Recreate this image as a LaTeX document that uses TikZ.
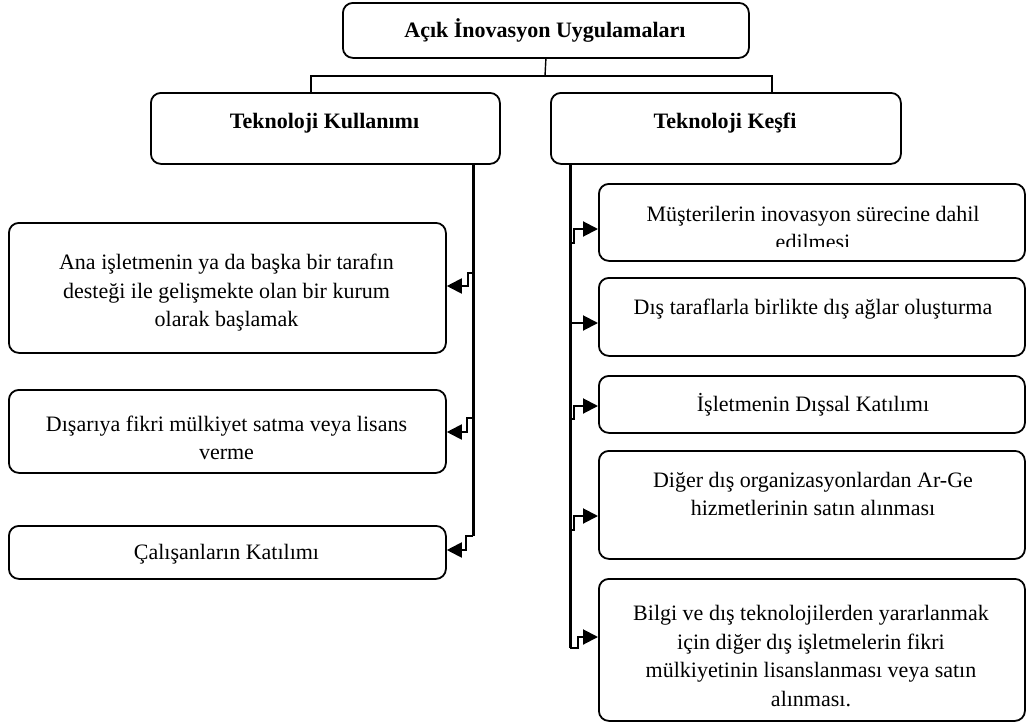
\documentclass[tikz,border=0pt]{standalone}
\usepackage{fontspec}
\setmainfont{Liberation Serif}
\usetikzlibrary{arrows.meta}
\begin{document}
\begin{tikzpicture}[x=1pt,y=-1pt,
  box/.style={draw, line width=1.8pt, rounded corners=10pt, anchor=north west, inner sep=0pt},
  txt/.style={align=center, inner sep=0pt, font=\fontsize{22}{28.5}\selectfont},
  head/.style={align=center, inner sep=0pt, font=\fontsize{22}{28.5}\selectfont\bfseries},
  tie/.style={line width=1.4pt},
  trunk/.style={line width=3pt},
  feed/.style={line width=2pt, -{Triangle[length=15pt,width=15pt]}},
]
\useasboundingbox (0,0) rectangle (1026,723);

% headings
\node[box, minimum width=406pt, minimum height=55pt] (top) at (342,2) {};
\node[head] (topt) at (545,30.5) {Açık İnovasyon Uygulamaları};
\node[box, minimum width=349pt, minimum height=71pt] (use) at (150,92) {};
\node[head] (uset) at (324.5,123) {Teknoloji Kullanımı};
\node[box, minimum width=350pt, minimum height=71pt] (disc) at (550,92) {};
\node[head] (disct) at (725,123) {Teknoloji Keşfi};

% left column
\node[box, minimum width=437pt, minimum height=130pt] (l1) at (8,222) {};
\node[txt] (l1t) at (226.5,293) {Ana işletmenin ya da başka bir tarafın\\desteği ile gelişmekte olan bir kurum\\olarak başlamak};
\node[box, minimum width=437pt, minimum height=83pt] (l2) at (8,389) {};
\node[txt] (l2t) at (226.5,438) {Dışarıya fikri mülkiyet satma veya lisans\\verme};
\node[box, minimum width=437pt, minimum height=53pt] (l3) at (8,525) {};
\node[txt] (l3t) at (226.5,554) {Çalışanların Katılımı};

% right column
\node[box, minimum width=426pt, minimum height=77pt] (r1) at (598,183) {};
\begin{scope}
  \clip (598,183) rectangle (1024,246);
  \node[txt] (r1t) at (813,228) {Müşterilerin inovasyon sürecine dahil\\edilmesi};
\end{scope}
\node[box, minimum width=426pt, minimum height=78pt] (r2) at (598,277) {};
\node[txt] (r2t) at (813,309) {Dış taraflarla birlikte dış ağlar oluşturma};
\node[box, minimum width=426pt, minimum height=57pt] (r3) at (598,375) {};
\node[txt] (r3t) at (813,405) {İşletmenin Dışsal Katılımı};
\node[box, minimum width=426pt, minimum height=108pt] (r4) at (598,450) {};
\node[txt] (r4t) at (813,494) {Diğer dış organizasyonlardan Ar-Ge\\hizmetlerinin satın alınması};
\node[box, minimum width=426pt, minimum height=142pt] (r5) at (598,578) {};
\node[txt] (r5t) at (811,656) {Bilgi ve dış teknolojilerden yararlanmak\\için diğer dış işletmelerin fikri\\mülkiyetinin lisanslanması veya satın\\alınması.};

% tree links between the headings
\coordinate (join) at (545,76);
\draw[tie] (top.south) -- (join);
\draw[tie] (use.north -| 311,0) |- (join) -| (disc.north -| 772,0);

% left trunk and its branches
\coordinate (lend) at (473,536);
\draw[trunk] (use.south -| 473,0) -- (lend);
\coordinate (la) at (473,273);
\coordinate (lb) at (473,418);
\draw[feed] (la) -- ++(-5,0) |- (l1.east |- 0,286);
\draw[feed] (lb) -- ++(-6,0) |- (l2.east |- 0,432);
\draw[feed] (lend) -- ++(-7,0) |- (l3.east |- 0,550);

% right trunk and its branches
\coordinate (rend) at (570,648);
\draw[trunk] (disc.south -| 570,0) -- (rend);
\coordinate (ra) at (570,243);
\coordinate (rb) at (570,323);
\coordinate (rc) at (570,419);
\coordinate (rd) at (570,530);
\draw[feed] (ra) -- ++(4,0) |- (r1.west |- 0,229);
\draw[feed] (rb) -- (r2.west |- 0,323);
\draw[feed] (rc) -- ++(4,0) |- (r3.west |- 0,406);
\draw[feed] (rd) -- ++(4,0) |- (r4.west |- 0,516);
\draw[feed] (rend) -- ++(8,0) |- (r5.west |- 0,637);
\end{tikzpicture}
\end{document}
